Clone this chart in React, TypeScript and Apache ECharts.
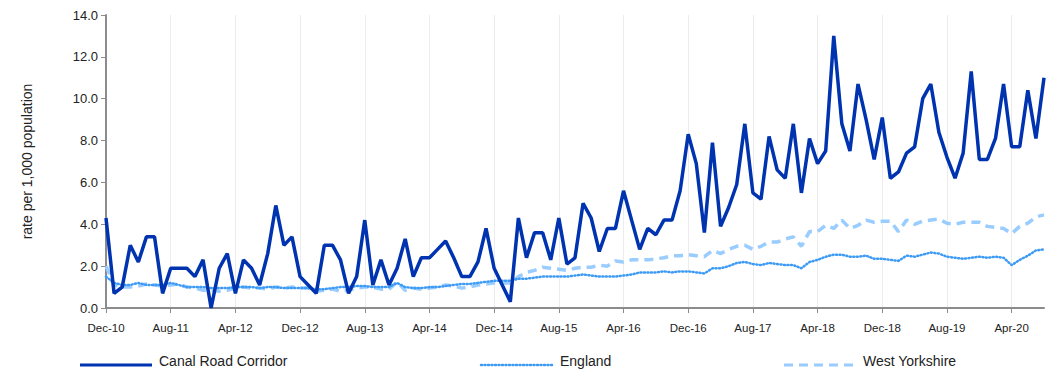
import React, { useEffect, useRef } from "react";
import * as echarts from "echarts";

const MONTHS = ["Jan", "Feb", "Mar", "Apr", "May", "Jun", "Jul", "Aug", "Sep", "Oct", "Nov", "Dec"];
const START_YEAR = 10;
const START_MONTH = 11; // Dec
const N_MONTHS = 117;
const categories: string[] = Array.from({ length: N_MONTHS }, (_, i) => {
  const m = (START_MONTH + i) % 12;
  const y = START_YEAR + Math.floor((START_MONTH + i) / 12);
  return `${MONTHS[m]}-${y}`;
});

const canalRoad = [
  4.3, 0.7, 1.0, 3.0, 2.2, 3.4, 3.4, 0.7, 1.9, 1.9, 1.9, 1.5, 2.3, 0.0, 1.9, 2.6,
  0.7, 2.3, 1.9, 1.1, 2.6, 4.9, 3.0, 3.4, 1.5, 1.1, 0.7, 3.0, 3.0, 2.3, 0.7, 1.5,
  4.2, 1.1, 2.3, 1.1, 1.9, 3.3, 1.5, 2.4, 2.4, 2.8, 3.2, 2.4, 1.5, 1.5, 2.2, 3.8,
  1.9, 1.1, 0.3, 4.3, 2.4, 3.6, 3.6, 2.3, 4.3, 2.1, 2.4, 5.0, 4.3, 2.7, 3.8, 3.8,
  5.6, 4.2, 2.8, 3.8, 3.5, 4.2, 4.2, 5.6, 8.3, 6.9, 3.6, 7.9, 3.9, 4.8, 5.9, 8.8,
  5.5, 5.2, 8.2, 6.6, 6.2, 8.8, 5.5, 8.1, 6.9, 7.5, 13.0, 8.8, 7.5, 10.7, 9.0, 7.1,
  9.1, 6.2, 6.5, 7.4, 7.7, 10.0, 10.7, 8.4, 7.2, 6.2, 7.4, 11.3, 7.1, 7.1, 8.1, 10.7,
  7.7, 7.7, 10.4, 8.1, 11.0,
];

const england = [
  1.5, 1.2, 1.1, 1.1, 1.2, 1.1, 1.1, 1.1, 1.2, 1.1, 1.0, 1.0, 1.0, 0.95, 0.95, 0.95,
  1.0, 1.0, 1.0, 0.95, 1.0, 1.0, 0.95, 0.95, 0.95, 0.95, 0.9, 0.9, 0.95, 1.0, 1.0, 1.05,
  1.05, 1.0, 1.0, 1.0, 1.2, 1.0, 0.95, 0.95, 1.0, 1.0, 1.05, 1.1, 1.15, 1.15, 1.2, 1.25,
  1.3, 1.3, 1.3, 1.4, 1.4, 1.45, 1.5, 1.5, 1.5, 1.5, 1.55, 1.6, 1.55, 1.5, 1.5, 1.5,
  1.55, 1.6, 1.7, 1.7, 1.7, 1.75, 1.7, 1.75, 1.75, 1.7, 1.65, 1.9, 1.9, 2.0, 2.15, 2.2,
  2.1, 2.05, 2.15, 2.1, 2.05, 2.05, 1.9, 2.2, 2.3, 2.45, 2.55, 2.55, 2.45, 2.45, 2.5, 2.35,
  2.35, 2.3, 2.25, 2.5, 2.45, 2.55, 2.65, 2.6, 2.45, 2.4, 2.35, 2.4, 2.45, 2.4, 2.45, 2.4,
  2.05, 2.3, 2.5, 2.75, 2.8,
];

const westYorkshire = [
  2.0, 1.1, 1.0, 1.0, 1.05, 1.15, 1.1, 1.05, 1.1, 1.15, 1.0, 0.95, 0.85, 0.85, 0.8, 0.85,
  0.95, 1.0, 0.95, 0.95, 0.9, 1.0, 0.95, 1.0, 0.95, 0.95, 0.8, 0.85, 0.9, 0.8, 0.85, 0.95,
  1.0, 1.0, 0.9, 0.9, 1.25, 0.85, 0.95, 0.9, 0.95, 1.0, 1.1, 1.05, 0.95, 1.0, 1.1, 1.15,
  1.2, 1.2, 1.2, 1.5, 1.7, 1.8, 1.95, 1.9, 1.85, 1.8, 1.9, 1.95, 1.95, 2.05, 2.0, 2.25,
  2.2, 2.3, 2.3, 2.3, 2.35, 2.4, 2.5, 2.5, 2.55, 2.5, 2.45, 2.75, 2.6, 2.8, 2.95, 3.0,
  2.8, 2.95, 3.15, 3.15, 3.3, 3.4, 2.95, 3.65, 3.65, 3.95, 3.8, 4.2, 3.8, 3.95, 4.2, 4.1,
  4.15, 4.15, 3.65, 4.2, 4.0, 4.15, 4.2, 4.25, 4.05, 4.0, 4.1, 4.1, 4.1, 3.9, 3.85, 3.8,
  3.55, 3.9, 4.05, 4.35, 4.45,
];

const seriesNames = ["Canal Road Corridor", "England", "West Yorkshire"];
const yAxisName = "rate per 1,000 population";

const FONT = "Liberation Sans, Arial, sans-serif";

const COLORS = { canal: "#0033b0", england: "#3d9bf5", wy: "#99ccff" };
const LINE_STYLES = {
  canal: { color: COLORS.canal, width: 3.5 },
  england: { color: COLORS.england, width: 2.5, type: [1, 2.5], cap: "round" as const },
  wy: { color: COLORS.wy, width: 3.5, type: [9, 6] },
};

function legendItem(x: number, label: string, style: any) {
  return {
    type: "group",
    children: [
      {
        type: "line",
        shape: { x1: x, y1: 365, x2: x + 72, y2: 365 },
        style: { stroke: style.color, lineWidth: Math.min(style.width, 3), lineDash: style.type || null, lineCap: style.cap || "butt" },
      },
      {
        type: "text",
        x: x + 79,
        y: 361,
        style: { text: label, fill: "#222", font: `14px ${FONT}`, verticalAlign: "middle" },
      },
    ],
  };
}

export default function App() {
  const ref = useRef<HTMLDivElement>(null);
  useEffect(() => {
    document.body.style.margin = "0";
    if (!ref.current) return;
    const chart = echarts.init(ref.current, null, { renderer: "svg" });
    chart.setOption({
      animation: false,
      textStyle: { fontFamily: FONT },
      grid: { left: 106, right: 5, top: 15, bottom: 62, containLabel: false },
      graphic: [
        legendItem(80, seriesNames[0], LINE_STYLES.canal),
        legendItem(481, seriesNames[1], LINE_STYLES.england),
        legendItem(784, seriesNames[2], LINE_STYLES.wy),
      ],
      xAxis: {
        type: "category",
        data: categories,
        boundaryGap: false,
        axisLine: { lineStyle: { color: "#8c8c8c", width: 2 } },
        axisTick: { interval: 7, length: 5, lineStyle: { color: "#8c8c8c" } },
        axisLabel: { interval: 7, fontSize: 11.5, color: "#222", margin: 14, fontFamily: FONT },
        splitLine: { show: true, interval: 7, lineStyle: { color: "#ececec", width: 1 } },
      },
      yAxis: {
        type: "value",
        min: 0,
        max: 14,
        interval: 2,
        name: yAxisName,
        nameLocation: "middle",
        nameGap: 72,
        nameTextStyle: { fontSize: 14, color: "#222", fontFamily: FONT },
        axisLine: { show: true, lineStyle: { color: "#8c8c8c", width: 2 } },
        axisTick: { show: true, length: 5, lineStyle: { color: "#8c8c8c" } },
        axisLabel: {
          fontSize: 13,
          color: "#222",
          margin: 8,
          fontFamily: FONT,
          formatter: (v: number) => v.toFixed(1),
        },
        splitLine: { show: false },
      },
      series: [
        {
          name: seriesNames[2],
          type: "line",
          data: westYorkshire,
          symbol: "none",
          z: 2,
          lineStyle: LINE_STYLES.wy,
        },
        {
          name: seriesNames[1],
          type: "line",
          data: england,
          symbol: "none",
          z: 3,
          lineStyle: LINE_STYLES.england,
        },
        {
          name: seriesNames[0],
          type: "line",
          data: canalRoad,
          symbol: "none",
          z: 4,
          lineStyle: LINE_STYLES.canal,
        },
      ],
    });
    return () => chart.dispose();
  }, []);
  return <div ref={ref} style={{ width: 1049, height: 370 }} />;
}
